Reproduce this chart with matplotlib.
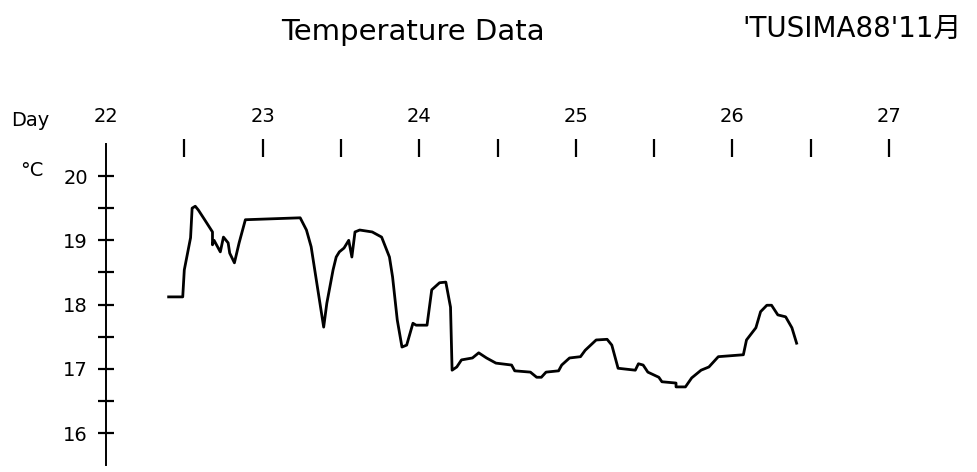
import numpy as np
import matplotlib
matplotlib.use("Agg")
import matplotlib.pyplot as plt

# temperature record (day of month, deg C)
day = [22.40, 22.49, 22.50, 22.54, 22.55, 22.57, 22.59, 22.63, 22.68, 22.68,
       22.69, 22.73, 22.75, 22.78, 22.79, 22.82, 22.85, 22.89, 23.24, 23.28,
       23.31, 23.34, 23.39, 23.41, 23.45, 23.47, 23.49, 23.52, 23.55, 23.57,
       23.59, 23.62, 23.70, 23.76, 23.81, 23.83, 23.86, 23.89, 23.92, 23.96,
       23.98, 24.05, 24.08, 24.13, 24.17, 24.20, 24.21, 24.24, 24.27, 24.34,
       24.38, 24.43, 24.49, 24.59, 24.61, 24.71, 24.75, 24.78, 24.81, 24.89,
       24.91, 24.96, 25.03, 25.06, 25.13, 25.20, 25.23, 25.27, 25.38, 25.40,
       25.43, 25.46, 25.53, 25.55, 25.64, 25.64, 25.70, 25.74, 25.80, 25.85,
       25.91, 26.07, 26.09, 26.15, 26.18, 26.22, 26.25, 26.29, 26.34, 26.38,
       26.41]
temp = [18.12, 18.12, 18.54, 19.04, 19.50, 19.53, 19.47, 19.32, 19.13, 18.93,
        19.00, 18.82, 19.05, 18.96, 18.80, 18.65, 18.96, 19.32, 19.35, 19.16,
        18.90, 18.43, 17.65, 18.02, 18.54, 18.74, 18.82, 18.88, 19.00, 18.74,
        19.13, 19.16, 19.13, 19.05, 18.74, 18.43, 17.76, 17.34, 17.37, 17.71,
        17.68, 17.68, 18.23, 18.34, 18.35, 17.96, 16.98, 17.03, 17.14, 17.17,
        17.25, 17.17, 17.09, 17.06, 16.97, 16.95, 16.87, 16.87, 16.95, 16.97,
        17.06, 17.17, 17.19, 17.29, 17.45, 17.46, 17.37, 17.01, 16.98, 17.08,
        17.06, 16.95, 16.87, 16.80, 16.78, 16.72, 16.72, 16.86, 16.98, 17.03,
        17.19, 17.22, 17.45, 17.64, 17.89, 17.99, 17.99, 17.84, 17.81, 17.64,
        17.40]

day_labels = [22, 23, 24, 25, 26, 27]
temp_labels = [16, 17, 18, 19, 20]
temp_minor = [16.5, 17.5, 18.5, 19.5]
day_ticks = np.arange(22.5, 27.01, 0.5)

title = "Temperature Data"
tag = "'TUSIMA88'11月"

W, H = 978, 472
fig = plt.figure(figsize=(W / 100, H / 100), dpi=100)
fig.patch.set_facecolor("white")

# axes placed so day 22 sits on the vertical scale line
ax = fig.add_axes([106 / W, 0.0141, 783 / W, 0.6811])
ax.plot(day, temp, color="black", lw=2.0, solid_joinstyle="round")
ax.set_xlim(22, 27)
ax.set_ylim(15.5, 20.5)

for s in ["top", "right", "bottom"]:
    ax.spines[s].set_visible(False)
ax.spines["left"].set_linewidth(1.4)
ax.set_xticks([])
ax.set_yticks(temp_labels)
ax.set_yticklabels([str(t) for t in temp_labels])
ax.set_yticks(temp_minor, minor=True)
ax.tick_params(axis="y", which="both", direction="inout", length=12,
               width=1.6, labelsize=14, pad=7)

# day ticks floating above the plot
xt = ax.get_xaxis_transform()
ax.vlines(day_ticks, 0.959, 1.015, transform=xt, color="black", lw=1.6,
          clip_on=False)
for d in day_labels:
    ax.text(d, 1.085, str(d), transform=xt, ha="center", va="center",
            fontsize=14, clip_on=False)

fig.text(30 / W, 1 - 120 / H, "Day", ha="center", va="center", fontsize=14)
fig.text(32 / W, 1 - 171 / H, "°C", ha="center", va="center", fontsize=14)

fig.text(413 / W, 1 - 32 / H, title, ha="center", va="center", fontsize=21)
fig.text(852 / W, 1 - 29 / H, tag, ha="center", va="center", fontsize=20,
         family=["DejaVu Sans", "Noto Sans CJK JP"])

fig.savefig("out.png", dpi=100, facecolor="white")
